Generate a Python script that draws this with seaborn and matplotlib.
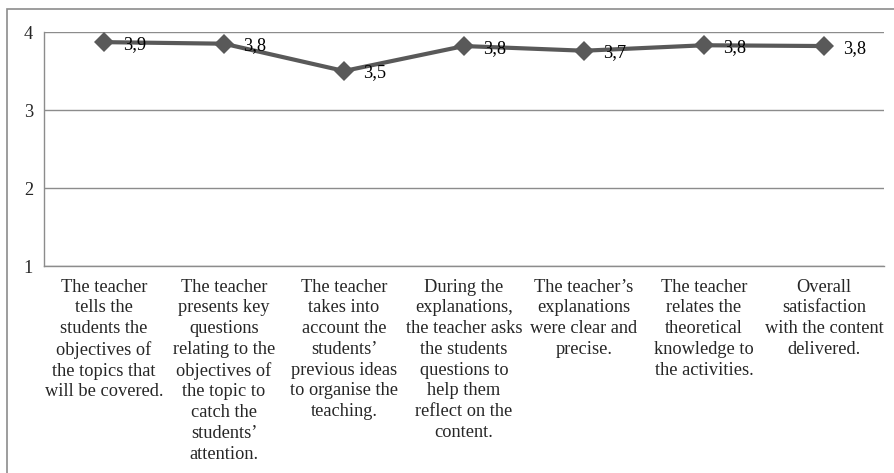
import matplotlib
matplotlib.use("Agg")
import matplotlib.pyplot as plt
import seaborn as sns
import pandas as pd
import numpy as np
from matplotlib.patches import Rectangle

# chart data
categories = [
    "The teacher\ntells the\nstudents the\nobjectives of\nthe topics that\nwill be covered.",
    "The teacher\npresents key\nquestions\nrelating to the\nobjectives of\nthe topic to\ncatch the\nstudents\u2019\nattention.",
    "The teacher\ntakes into\naccount the\nstudents\u2019\nprevious ideas\nto organise the\nteaching.",
    "During the\nexplanations,\nthe teacher asks\nthe students\nquestions to\nhelp them\nreflect on the\ncontent.",
    "The teacher\u2019s\nexplanations\nwere clear and\nprecise.",
    "The teacher\nrelates the\ntheoretical\nknowledge to\nthe activities.",
    "Overall\nsatisfaction\nwith the content\ndelivered.",
]
scores = [3.87, 3.85, 3.50, 3.82, 3.76, 3.83, 3.82]
score_labels = ["3,9", "3,8", "3,5", "3,8", "3,7", "3,8", "3,8"]
y_ticks = [1, 2, 3, 4]

df = pd.DataFrame({"item": np.arange(len(categories)), "score": scores})

sns.set_style("white")
plt.rcParams["font.family"] = ["Liberation Serif", "DejaVu Serif"]

grey = "#8c8c8c"
line_col = "#595959"
fs = 13.2

fig = plt.figure(figsize=(8.95, 4.73), dpi=100)
ax = fig.add_axes([44 / 895, 1 - 266 / 473, 840 / 895, 234 / 473])

sns.lineplot(data=df, x="item", y="score", ax=ax, color=line_col, linewidth=3,
             marker="D", markersize=10, markeredgecolor=line_col, markeredgewidth=0)

for i, (v, lab) in enumerate(zip(scores, score_labels)):
    ax.annotate(lab, (i, v), xytext=(14, -1.5), textcoords="offset points",
                ha="left", va="center", fontsize=fs, color="black")

ax.set_xlim(-0.5, len(categories) - 0.5)
ax.set_ylim(1, 4)
ax.set_yticks(y_ticks)
ax.set_yticklabels([str(t) for t in y_ticks], fontsize=fs)
ax.set_xticks(np.arange(len(categories)))
ax.set_xticklabels(categories, fontsize=fs, linespacing=1.29, va="top")
ax.set_xticks(np.arange(len(categories) + 1) - 0.5, minor=True)
ax.tick_params(axis="x", which="major", length=0, pad=9)
ax.tick_params(axis="x", which="minor", length=5, color=grey, width=1, direction="out")
ax.tick_params(axis="y", length=5, color=grey, width=1, direction="out", pad=3)
ax.set_xlabel("")
ax.set_ylabel("")

ax.yaxis.grid(True, color=grey, linewidth=1)
ax.set_axisbelow(True)
for s in ["top", "right"]:
    ax.spines[s].set_visible(False)
for s in ["left", "bottom"]:
    ax.spines[s].set_color(grey)
    ax.spines[s].set_linewidth(1)

# outer chart border
fig.patches.append(Rectangle((7 / 895, -0.1), 1.2, 1.1 - 9 / 473, transform=fig.transFigure,
                             fill=False, edgecolor=grey, linewidth=1.2, clip_on=False))

fig.savefig("out.png", dpi=100)
